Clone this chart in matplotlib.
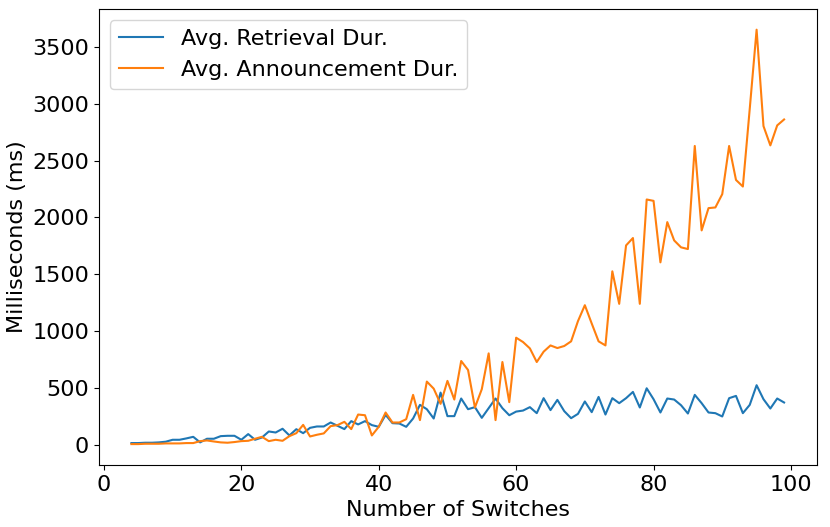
import numpy as np
import matplotlib
matplotlib.use("Agg")
import matplotlib.pyplot as plt

plt.rcParams['font.size'] = 16

# number of switches (x axis)
switches = list(range(4, 100))

# average retrieval duration (ms)
retrieval_ms = [
    15, 15, 18, 18, 21, 27, 44, 44, 56, 70,          # 4-13
    21, 53, 53, 76, 79, 79, 44, 94, 44, 64,          # 14-23
    117, 108, 141, 82, 137, 102, 149, 161, 161, 196,  # 24-33
    167, 138, 208, 179, 208, 173, 158, 263, 190, 187,  # 34-43
    158, 231, 351, 313, 231, 459, 252, 252, 407, 313,  # 44-53
    331, 237, 322, 407, 322, 260, 292, 301, 331, 278,  # 54-63
    410, 305, 395, 296, 234, 272, 381, 287, 421, 266,  # 64-73
    410, 366, 410, 465, 328, 497, 401, 284, 407, 398,  # 74-83
    348, 275, 439, 366, 284, 278, 249, 410, 430, 278,  # 84-93
    351, 524, 401, 319, 407, 372,                      # 94-99
]

# average announcement duration (ms)
announcement_ms = [
    6, 6, 9, 9, 9, 12, 12, 12, 15, 15,                # 4-13
    32, 38, 29, 21, 18, 24, 32, 35, 53, 70,           # 14-23
    32, 44, 35, 76, 102, 175, 73, 88, 100, 164,       # 24-33
    173, 202, 138, 266, 260, 82, 158, 284, 196, 196,  # 34-43
    225, 439, 217, 556, 494, 360, 562, 398, 737, 658,  # 44-53
    328, 489, 804, 217, 728, 375, 942, 904, 848, 728,  # 54-63
    819, 874, 851, 869, 910, 1088, 1228, 1067, 910, 874,  # 64-73
    1526, 1240, 1754, 1819, 1240, 2158, 2146, 1605, 1959, 1798,  # 74-83
    1737, 1722, 2629, 1886, 2082, 2088, 2205, 2629, 2330, 2272,  # 84-93
    2955, 3652, 2804, 2634, 2810, 2862,                          # 94-99
]

fig, ax = plt.subplots(figsize=(8.3, 5.27), dpi=100)
fig.subplots_adjust(left=0.119, right=0.984, top=0.983, bottom=0.118)

ax.plot(switches, retrieval_ms, label='Avg. Retrieval Dur.')
ax.plot(switches, announcement_ms, label='Avg. Announcement Dur.')

ax.set_xlabel('Number of Switches')
ax.set_ylabel('Milliseconds (ms)')
ax.legend(loc='upper left')

plt.savefig('out.png', dpi=100)
